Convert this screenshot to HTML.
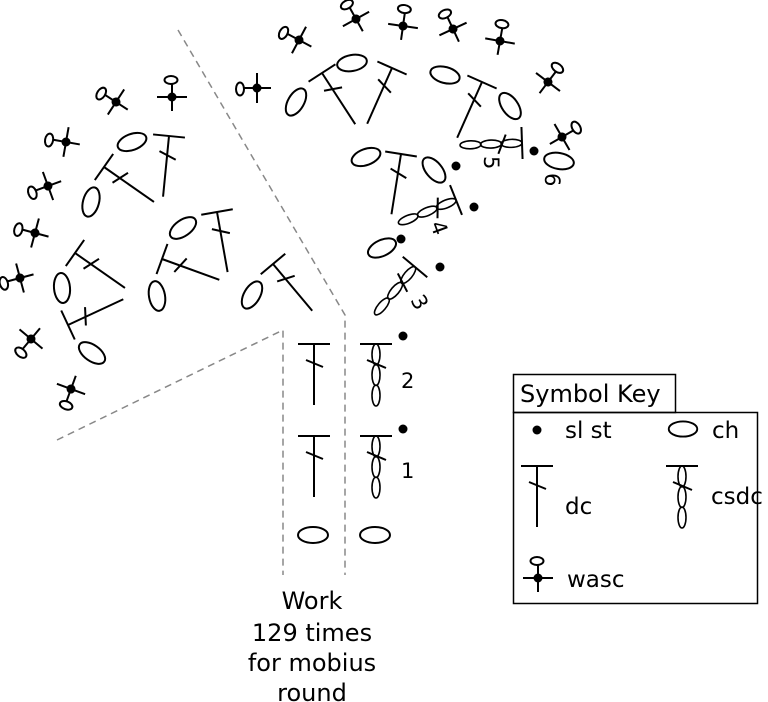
<!DOCTYPE html>
<html><head><meta charset="utf-8"><style>
html,body{margin:0;padding:0;background:#fff;}
svg{display:block;}
text{font-family:"DejaVu Sans","Liberation Sans",sans-serif;fill:#000;}
</style></head><body>
<svg width="768" height="702" viewBox="0 0 768 702" xmlns="http://www.w3.org/2000/svg">
<defs>
<g id="dc" stroke="#000" stroke-width="2" fill="none">
<line x1="-16" y1="0" x2="16" y2="0"/><line x1="0" y1="0" x2="0" y2="61"/><line x1="-8" y1="16" x2="9" y2="23"/>
</g>
<g id="csdc" stroke="#000" stroke-width="1.6" fill="none">
<line x1="-16" y1="0" x2="16" y2="0" stroke-width="2"/>
<ellipse cx="0" cy="10.5" rx="4" ry="10.5"/><ellipse cx="0" cy="31" rx="4" ry="10.5"/><ellipse cx="0" cy="51.5" rx="4" ry="10.5"/>
<line x1="-9" y1="16" x2="10" y2="24" stroke-width="2"/>
</g>
<g id="ch"><ellipse cx="0" cy="0" rx="15" ry="8" stroke="#000" stroke-width="2" fill="none"/></g>
<g id="wasc" stroke="#000" stroke-width="2" fill="none">
<line x1="-15" y1="0" x2="15" y2="0"/><line x1="0" y1="-13" x2="0" y2="14"/>
<ellipse cx="-1" cy="-17" rx="6.5" ry="4"/>
<circle cx="0" cy="0" r="4.5" fill="#000" stroke="none"/>
</g>
</defs>

<g stroke="#888" stroke-width="1.5" stroke-dasharray="7,5" fill="none">
<polyline points="178,30 345,315 345,575"/>
<polyline points="57,440 283,330 283,575"/>
</g>

<use href="#dc" transform="translate(169,136) rotate(5.6)"/>
<use href="#dc" transform="translate(104,167) rotate(-55)"/>
<use href="#dc" transform="translate(217,212) rotate(-10)"/>
<use href="#dc" transform="translate(162,259) rotate(-70)"/>
<use href="#dc" transform="translate(75,253) rotate(-55)"/>
<use href="#dc" transform="translate(68,325) rotate(-115)"/>
<use href="#dc" transform="translate(273,264) rotate(-40)"/>
<use href="#dc" transform="translate(322,73) rotate(-33)"/>
<use href="#dc" transform="translate(392,68) rotate(24)"/>
<use href="#dc" transform="translate(482,82) rotate(24)"/>
<use href="#dc" transform="translate(401,154) rotate(9)"/>
<use href="#dc" transform="translate(314,344)"/>
<use href="#dc" transform="translate(314,436)"/>

<use href="#csdc" transform="translate(522,143) rotate(88)"/>
<use href="#csdc" transform="translate(456,200) rotate(68)"/>
<use href="#csdc" transform="translate(415,267) rotate(40)"/>
<use href="#csdc" transform="translate(376,344)"/>
<use href="#csdc" transform="translate(376,436)"/>

<use href="#ch" transform="translate(132,142) rotate(-20)"/>
<use href="#ch" transform="translate(91,202) rotate(-75)"/>
<use href="#ch" transform="translate(183,228) rotate(-35)"/>
<use href="#ch" transform="translate(157,296) rotate(-100)"/>
<use href="#ch" transform="translate(62,288) rotate(-95)"/>
<use href="#ch" transform="translate(92,353) rotate(35)"/>
<use href="#ch" transform="translate(252,295) rotate(-60)"/>
<use href="#ch" transform="translate(296,102) rotate(-60)"/>
<use href="#ch" transform="translate(352,63) rotate(-10)"/>
<use href="#ch" transform="translate(445,75) rotate(15)"/>
<use href="#ch" transform="translate(510,106) rotate(55)"/>
<use href="#ch" transform="translate(559,161) rotate(10)"/>
<use href="#ch" transform="translate(366,157) rotate(-20)"/>
<use href="#ch" transform="translate(434,170) rotate(50)"/>
<use href="#ch" transform="translate(382,248) rotate(-25)"/>
<use href="#ch" transform="translate(313,535)"/>
<use href="#ch" transform="translate(375,535)"/>

<use href="#wasc" transform="translate(116,102) rotate(-57)"/>
<use href="#wasc" transform="translate(172,97) rotate(0)"/>
<use href="#wasc" transform="translate(257,88) rotate(-90)"/>
<use href="#wasc" transform="translate(66,142) rotate(-80)"/>
<use href="#wasc" transform="translate(48,186) rotate(-110)"/>
<use href="#wasc" transform="translate(35,233) rotate(-75)"/>
<use href="#wasc" transform="translate(20,278) rotate(-105)"/>
<use href="#wasc" transform="translate(31,339) rotate(-140)"/>
<use href="#wasc" transform="translate(71,389) rotate(-160)"/>
<use href="#wasc" transform="translate(299,40) rotate(-62)"/>
<use href="#wasc" transform="translate(356,19) rotate(-29)"/>
<use href="#wasc" transform="translate(403,26) rotate(8)"/>
<use href="#wasc" transform="translate(453,29) rotate(-25)"/>
<use href="#wasc" transform="translate(500,41) rotate(10)"/>
<use href="#wasc" transform="translate(548,82) rotate(37)"/>
<use href="#wasc" transform="translate(562,137) rotate(60)"/>

<g fill="#000">
<circle cx="534" cy="151" r="4.5"/><circle cx="456" cy="166" r="4.5"/><circle cx="474" cy="207" r="4.5"/>
<circle cx="401" cy="239" r="4.5"/><circle cx="440" cy="267" r="4.5"/>
<circle cx="403" cy="336" r="4.5"/><circle cx="403" cy="429" r="4.5"/>
</g>

<g font-size="21">
<text x="401" y="388">2</text>
<text x="401" y="478">1</text>
<text transform="translate(410,300) rotate(60)">3</text>
<text transform="translate(430,224) rotate(70)">4</text>
<text transform="translate(484,156) rotate(90)">5</text>
<text transform="translate(545,173) rotate(90)">6</text>
</g>

<g font-size="24" text-anchor="middle">
<text x="312" y="609">Work</text>
<text x="312" y="641">129 times</text>
<text x="312" y="671">for mobius</text>
<text x="312" y="701">round</text>
</g>

<g stroke="#000" stroke-width="1.5" fill="none">
<rect x="513.5" y="412.5" width="244" height="191"/>
<rect x="513.5" y="374.5" width="162" height="38"/>
</g>
<text x="520" y="402" font-size="24">Symbol Key</text>
<circle cx="537" cy="430" r="4.5" fill="#000"/>
<text x="565" y="438" font-size="23">sl st</text>
<use href="#ch" transform="translate(683,429) scale(0.95)"/>
<text x="712" y="438" font-size="23">ch</text>
<use href="#dc" transform="translate(537,466)"/>
<text x="565" y="514" font-size="23">dc</text>
<use href="#csdc" transform="translate(682,466)"/>
<text x="711" y="504" font-size="23">csdc</text>
<use href="#wasc" transform="translate(538,578)"/>
<text x="567" y="587" font-size="23">wasc</text>
</svg>
</body></html>
